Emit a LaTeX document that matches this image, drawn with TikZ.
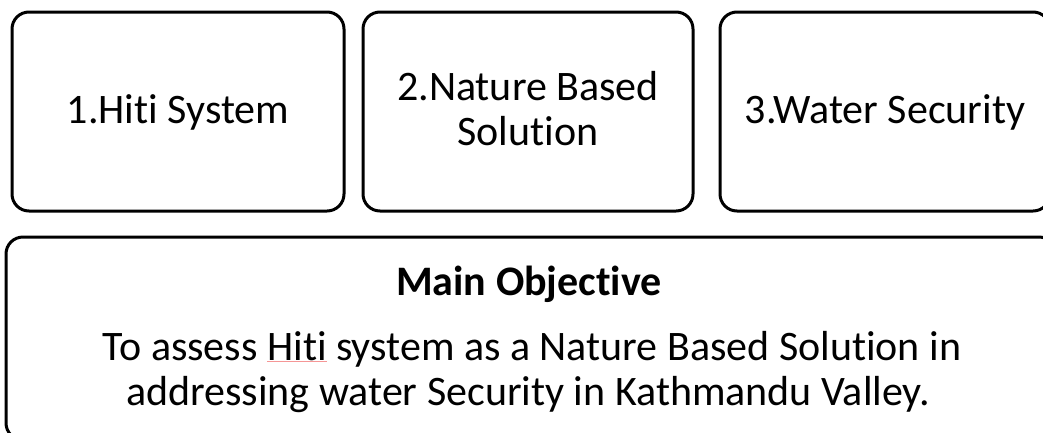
\documentclass[tikz,border=0pt]{standalone}
\usepackage{fontspec}
\setmainfont{Carlito}[Ligatures=NoCommon]
\definecolor{spellpink}{RGB}{245,150,150}
\newcommand\spellmark[1]{\setbox0\hbox{#1}\rlap{\color{spellpink}\vrule height -1pt depth 2.2pt width \wd0}\box0\relax}
\tikzset{
  box/.style={draw=black, line width=3pt, rounded corners=17pt, inner sep=0pt},
  lbl/.style={anchor=base, inner sep=0pt, font=\fontsize{42}{45}\selectfont},
  lblb/.style={lbl, font=\fontsize{42}{45}\selectfont\bfseries}
}
\begin{document}
\begin{tikzpicture}[x=1pt,y=-1pt]
\useasboundingbox (0,0) rectangle (1043,432);
% top boxes
\node[box, minimum width=332pt, minimum height=199pt] (b1) at (178,111.5) {};
\node[box, minimum width=330pt, minimum height=199pt] (b2) at (528,111.5) {};
\node[box, minimum width=330pt, minimum height=199pt] (b3) at (885,111.5) {};
% bottom box
\node[box, minimum width=1050pt, minimum height=203pt] (b4) at (531,338.5) {};
% texts
\node[lbl] (t1) at (178,123) {1.Hiti System};
\node[lbl] (t2a) at (528,100) {2.Nature Based};
\node[lbl] (t2b) at (528,145) {Solution};
\node[lbl] (t3) at (885,123) {3.Water Security};
\node[lblb] (t4) at (529,295) {Main Objective};
\node[lbl] (t5a) at (532,360) {To assess \spellmark{Hiti} system as a Nature Based Solution in};
\node[lbl] (t5b) at (528,405) {addressing water Security in Kathmandu Valley.};
\end{tikzpicture}
\end{document}
